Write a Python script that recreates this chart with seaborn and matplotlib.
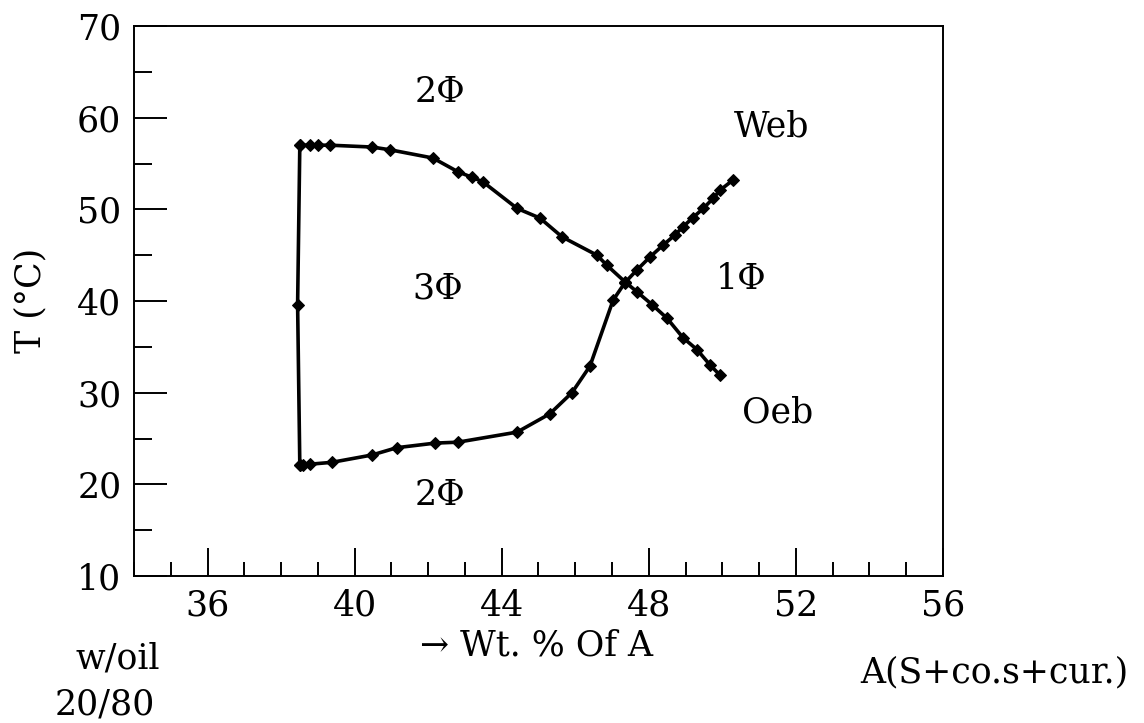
import matplotlib
matplotlib.use("Agg")
import matplotlib.pyplot as plt
import seaborn as sns
import pandas as pd
from matplotlib.ticker import FixedLocator, MultipleLocator

# upper boundary of the 3-phase region, continuing as the Oeb line
upper_x = [38.51, 38.79, 39.0, 39.33, 40.47, 40.96, 42.13, 42.81, 43.19, 43.49,
           44.42, 45.04, 45.64, 46.59, 46.86, 47.35, 47.68, 48.09, 48.5, 48.93,
           49.31, 49.67, 49.94]
upper_t = [57.0, 57.0, 57.0, 57.0, 56.8, 56.5, 55.6, 54.1, 53.5, 53.0,
           50.1, 49.05, 47.0, 45.0, 43.9, 42.1, 41.0, 39.6, 38.1, 36.0,
           34.7, 33.0, 31.9]

# lower boundary of the 3-phase region, continuing as the Web line
lower_x = [38.51, 38.6, 38.79, 39.38, 40.47, 41.15, 42.19, 42.81, 44.42, 45.31,
           45.91, 46.40, 47.03, 47.35, 47.68, 48.03, 48.39, 48.71, 48.93, 49.2,
           49.48, 49.75, 49.94, 50.29]
lower_t = [22.1, 22.1, 22.2, 22.4, 23.2, 24.0, 24.5, 24.6, 25.7, 27.7,
           30.0, 32.9, 40.1, 42.0, 43.4, 44.8, 46.1, 47.2, 48.1, 49.1,
           50.1, 51.2, 52.1, 53.2]

# left vertical boundary
left_x = [38.51, 38.45, 38.51]
left_t = [57.0, 39.6, 22.1]

x_major = [36, 40, 44, 48, 52, 56]

sns.set_style("ticks")
plt.rcParams['font.family'] = ['DejaVu Serif', 'DejaVu Sans']
plt.rcParams['font.size'] = 25
for k in ['text.color', 'axes.labelcolor', 'xtick.color', 'ytick.color', 'axes.edgecolor']:
    plt.rcParams[k] = 'black'

fig = plt.figure(figsize=(11.44, 7.23), dpi=100)
ax = fig.add_axes([0.1171, 0.2033, 0.7072, 0.7607])

line_kw = dict(color='black', linewidth=2.6, marker='D', markersize=6.5,
               markeredgecolor='black', sort=False, estimator=None, ax=ax)
sns.lineplot(data=pd.DataFrame({'x': upper_x, 't': upper_t}), x='x', y='t', **line_kw)
sns.lineplot(data=pd.DataFrame({'x': lower_x, 't': lower_t}), x='x', y='t', **line_kw)
sns.lineplot(data=pd.DataFrame({'x': left_x, 't': left_t}), x='x', y='t', **line_kw)

ax.set_xlim(34, 56)
ax.set_ylim(10, 70)
ax.xaxis.set_major_locator(FixedLocator(x_major))
ax.xaxis.set_minor_locator(MultipleLocator(1))
ax.yaxis.set_major_locator(MultipleLocator(10))
ax.yaxis.set_minor_locator(MultipleLocator(5))
ax.set_xlabel('')
ax.set_ylabel('')

for sp in ax.spines.values():
    sp.set_linewidth(1.4)
    sp.set_color('black')
ax.tick_params(axis='x', which='major', direction='in', length=20, width=1.4, pad=9, labelsize=25)
ax.tick_params(axis='x', which='minor', direction='in', length=10, width=1.4)
ax.tick_params(axis='y', which='major', direction='in', length=24, width=1.4, pad=9, labelsize=25)
ax.tick_params(axis='y', which='minor', direction='in', length=13, width=1.4)

# phase labels
txt = dict(ha='center', va='center', fontsize=25)
ax.text(42.32, 62.8, '2Φ', **txt)
ax.text(51.35, 59.0, 'Web', **txt)
ax.text(42.27, 41.4, '3Φ', **txt)
ax.text(50.51, 42.4, '1Φ', **txt)
ax.text(51.51, 27.8, 'Oeb', **txt)
ax.text(42.32, 18.8, '2Φ', **txt)

W, H = 1144, 723
fig.text(30 / W, 1 - 300 / H, 'T (°C)', rotation=90, ha='center', va='center', fontsize=25)
fig.text(537 / W, 1 - 645 / H, '→ Wt. % Of A', ha='center', va='center', fontsize=25)
fig.text(118 / W, 1 - 659 / H, 'w/oil', ha='center', va='center', fontsize=25)
fig.text(105 / W, 1 - 705 / H, '20/80', ha='center', va='center', fontsize=25)
fig.text(994 / W, 1 - 672 / H, 'A(S+co.s+cur.)', ha='center', va='center', fontsize=25)

fig.savefig('out.png', dpi=100)
